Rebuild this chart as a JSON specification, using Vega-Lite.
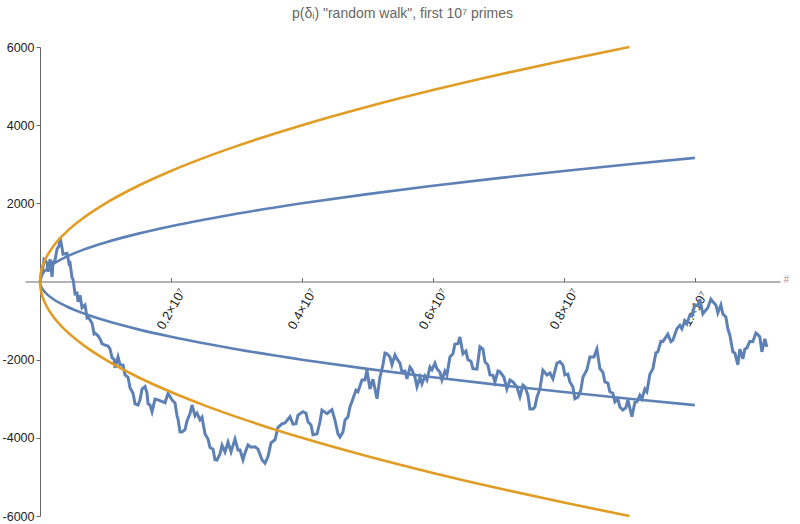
{
"$schema": "https://vega.github.io/schema/vega-lite/v6.json",
"width": 755, "height": 469,
"autosize": "none",
"padding": {"left": 25, "top": 47, "right": 20, "bottom": 8},
"background": "white",
"config": {"view": {"stroke": null}, "font": "Liberation Sans"},
"title": {"text": "p(δᵢ) \"random walk\", first 10⁷ primes", "frame": "group", "anchor": "middle", "offset": 9, "baseline": "alphabetic", "fontSize": 14, "fontWeight": "normal", "color": "#666666", "font": "Liberation Sans"},
"datasets": {
"walk": [
{"x":0,"y":0},{"x":30500,"y":200},{"x":61100,"y":570},{"x":76300,"y":550},{"x":106900,"y":470},{"x":122100,"y":250},{"x":152700,"y":570},{"x":183200,"y":120},{"x":198500,"y":490},{"x":229000,"y":550},{"x":259500,"y":830},{"x":290100,"y":910},{"x":305300,"y":1130},{"x":335900,"y":860},{"x":351100,"y":700},{"x":381700,"y":710},{"x":412200,"y":720},{"x":442700,"y":450},{"x":458000,"y":470},{"x":488500,"y":90},{"x":503800,"y":60},{"x":534300,"y":-320},{"x":564900,"y":-300},{"x":580100,"y":-520},{"x":610700,"y":-350},{"x":641200,"y":-670},{"x":687000,"y":-600},{"x":717500,"y":-930},{"x":732800,"y":-910},{"x":763400,"y":-980},{"x":793900,"y":-1070},{"x":824400,"y":-1340},{"x":839700,"y":-1320},{"x":885500,"y":-1390},{"x":916000,"y":-1470},{"x":946600,"y":-1590},{"x":992400,"y":-1630},{"x":1038200,"y":-1650},{"x":1068700,"y":-1730},{"x":1099200,"y":-1950},{"x":1129800,"y":-1990},{"x":1145000,"y":-2210},{"x":1190800,"y":-1930},{"x":1221400,"y":-2130},{"x":1267200,"y":-2140},{"x":1297700,"y":-2390},{"x":1343500,"y":-2450},{"x":1374000,"y":-2720},{"x":1419800,"y":-2860},{"x":1450400,"y":-3130},{"x":1496200,"y":-3160},{"x":1526700,"y":-3030},{"x":1557200,"y":-2750},{"x":1603000,"y":-2690},{"x":1633600,"y":-2860},{"x":1648800,"y":-3130},{"x":1679400,"y":-3160},{"x":1709900,"y":-3330},{"x":1755700,"y":-3010},{"x":1801500,"y":-3030},{"x":1847300,"y":-3060},{"x":1908400,"y":-3100},{"x":1954200,"y":-2860},{"x":2015200,"y":-3030},{"x":2061000,"y":-3110},{"x":2091600,"y":-3440},{"x":2106800,"y":-3520},{"x":2137400,"y":-3850},{"x":2167900,"y":-3850},{"x":2213700,"y":-3790},{"x":2244200,"y":-3570},{"x":2290000,"y":-3380},{"x":2320600,"y":-3160},{"x":2366400,"y":-3440},{"x":2396900,"y":-3370},{"x":2442700,"y":-3540},{"x":2473300,"y":-3470},{"x":2519100,"y":-3900},{"x":2564900,"y":-4030},{"x":2595400,"y":-4250},{"x":2641200,"y":-4290},{"x":2671700,"y":-4560},{"x":2702300,"y":-4570},{"x":2748100,"y":-4410},{"x":2778600,"y":-4190},{"x":2824400,"y":-4360},{"x":2870200,"y":-4110},{"x":2916000,"y":-4360},{"x":2977100,"y":-4030},{"x":3022900,"y":-4310},{"x":3053400,"y":-4310},{"x":3099200,"y":-4560},{"x":3129700,"y":-4390},{"x":3175500,"y":-4180},{"x":3221300,"y":-4240},{"x":3282400,"y":-4230},{"x":3328200,"y":-4290},{"x":3389300,"y":-4560},{"x":3435100,"y":-4650},{"x":3480900,"y":-4480},{"x":3526700,"y":-4130},{"x":3587700,"y":-4050},{"x":3633500,"y":-3730},{"x":3694600,"y":-3640},{"x":3740400,"y":-3620},{"x":3816800,"y":-3460},{"x":3862600,"y":-3650},{"x":3908400,"y":-3640},{"x":3938900,"y":-3420},{"x":4015200,"y":-3330},{"x":4061000,"y":-3370},{"x":4091600,"y":-3590},{"x":4137400,"y":-3670},{"x":4167900,"y":-3920},{"x":4229000,"y":-3900},{"x":4274800,"y":-3590},{"x":4305300,"y":-3290},{"x":4381600,"y":-3380},{"x":4427400,"y":-3320},{"x":4458000,"y":-3280},{"x":4503800,"y":-3550},{"x":4549600,"y":-3900},{"x":4580100,"y":-3980},{"x":4625900,"y":-3850},{"x":4656400,"y":-3550},{"x":4702200,"y":-3460},{"x":4732800,"y":-3210},{"x":4778600,"y":-3000},{"x":4824400,"y":-2780},{"x":4854900,"y":-2820},{"x":4916000,"y":-2520},{"x":4961800,"y":-2520},{"x":4992300,"y":-2270},{"x":5038100,"y":-2750},{"x":5083900,"y":-2500},{"x":5145000,"y":-3000},{"x":5190800,"y":-2450},{"x":5236600,"y":-2130},{"x":5267100,"y":-1830},{"x":5297600,"y":-1850},{"x":5343500,"y":-1930},{"x":5374000,"y":-2130},{"x":5419800,"y":-1880},{"x":5450300,"y":-1980},{"x":5496100,"y":-2090},{"x":5526700,"y":-2310},{"x":5572500,"y":-2290},{"x":5603000,"y":-2490},{"x":5648800,"y":-2190},{"x":5679300,"y":-2260},{"x":5725100,"y":-2450},{"x":5755700,"y":-2690},{"x":5801500,"y":-2450},{"x":5832000,"y":-2620},{"x":5877800,"y":-2420},{"x":5908300,"y":-2520},{"x":5954100,"y":-2190},{"x":5984700,"y":-2260},{"x":6030500,"y":-2090},{"x":6061000,"y":-2230},{"x":6106800,"y":-2320},{"x":6137300,"y":-2520},{"x":6183100,"y":-2290},{"x":6213700,"y":-2390},{"x":6259500,"y":-1930},{"x":6305300,"y":-1850},{"x":6335800,"y":-1600},{"x":6381600,"y":-1590},{"x":6412100,"y":-1420},{"x":6457900,"y":-1850},{"x":6503700,"y":-1780},{"x":6534300,"y":-2000},{"x":6580100,"y":-2040},{"x":6610600,"y":-2230},{"x":6671700,"y":-2240},{"x":6717500,"y":-1670},{"x":6763300,"y":-1730},{"x":6793800,"y":-2050},{"x":6839600,"y":-2140},{"x":6870200,"y":-2390},{"x":6916000,"y":-2400},{"x":6946500,"y":-2570},{"x":6992300,"y":-2290},{"x":7022800,"y":-2310},{"x":7083900,"y":-2450},{"x":7129700,"y":-2750},{"x":7175500,"y":-2520},{"x":7221300,"y":-2570},{"x":7282400,"y":-2700},{"x":7328200,"y":-2950},{"x":7374000,"y":-2650},{"x":7404500,"y":-2690},{"x":7450300,"y":-2910},{"x":7480800,"y":-3260},{"x":7526600,"y":-3260},{"x":7557200,"y":-3210},{"x":7587700,"y":-2960},{"x":7633500,"y":-2750},{"x":7679300,"y":-2270},{"x":7740400,"y":-2390},{"x":7786200,"y":-2340},{"x":7832000,"y":-2490},{"x":7893000,"y":-2090},{"x":7938800,"y":-2050},{"x":7984600,"y":-2140},{"x":8015200,"y":-2390},{"x":8061000,"y":-2370},{"x":8091500,"y":-2570},{"x":8137300,"y":-2700},{"x":8167800,"y":-3000},{"x":8213600,"y":-2960},{"x":8259400,"y":-2770},{"x":8290000,"y":-2450},{"x":8351000,"y":-2260},{"x":8396900,"y":-1930},{"x":8457900,"y":-1930},{"x":8503700,"y":-1730},{"x":8549500,"y":-2230},{"x":8595300,"y":-2320},{"x":8625900,"y":-2570},{"x":8671700,"y":-2600},{"x":8702200,"y":-2820},{"x":8748000,"y":-2860},{"x":8778500,"y":-3080},{"x":8824300,"y":-3010},{"x":8854900,"y":-3210},{"x":8900700,"y":-3290},{"x":8946500,"y":-3230},{"x":8977000,"y":-3030},{"x":9038100,"y":-3460},{"x":9083900,"y":-3090},{"x":9114400,"y":-3080},{"x":9160200,"y":-2910},{"x":9190700,"y":-3000},{"x":9236500,"y":-2750},{"x":9267100,"y":-2820},{"x":9312900,"y":-2370},{"x":9358700,"y":-2230},{"x":9404500,"y":-1830},{"x":9435000,"y":-1800},{"x":9480800,"y":-1530},{"x":9511300,"y":-1540},{"x":9587700,"y":-1350},{"x":9633500,"y":-1540},{"x":9664000,"y":-1500},{"x":9725100,"y":-1210},{"x":9770900,"y":-1120},{"x":9801400,"y":-1210},{"x":9847200,"y":-1010},{"x":9877700,"y":-1080},{"x":9923600,"y":-860},{"x":9954100,"y":-880},{"x":9999900,"y":-600},{"x":10045700,"y":-620},{"x":10076200,"y":-450},{"x":10122000,"y":-830},{"x":10152600,"y":-760},{"x":10198400,"y":-670},{"x":10244200,"y":-450},{"x":10274700,"y":-520},{"x":10320500,"y":-600},{"x":10351000,"y":-800},{"x":10396800,"y":-600},{"x":10427400,"y":-830},{"x":10473200,"y":-910},{"x":10503700,"y":-1210},{"x":10534200,"y":-1370},{"x":10580000,"y":-1800},{"x":10610600,"y":-1830},{"x":10656400,"y":-2130},{"x":10686900,"y":-1730},{"x":10732700,"y":-1980},{"x":10763200,"y":-1730},{"x":10793800,"y":-1700},{"x":10839600,"y":-1530},{"x":10885400,"y":-1540},{"x":10931200,"y":-1320},{"x":10961700,"y":-1360},{"x":10992200,"y":-1420},{"x":11022800,"y":-1800},{"x":11068600,"y":-1470},{"x":11099100,"y":-1670}
],
"curves": [
{"x":0,"y":0,"s":"b1"},{"x":2500,"y":50,"s":"b1"},{"x":10000,"y":100,"s":"b1"},{"x":25000,"y":158.1,"s":"b1"},{"x":50000,"y":223.6,"s":"b1"},{"x":100000,"y":316.2,"s":"b1"},{"x":200000,"y":447.2,"s":"b1"},{"x":400000,"y":632.5,"s":"b1"},{"x":700000,"y":836.7,"s":"b1"},{"x":1000000,"y":1000,"s":"b1"},{"x":1500000,"y":1224.7,"s":"b1"},{"x":2000000,"y":1414.2,"s":"b1"},{"x":2500000,"y":1581.1,"s":"b1"},{"x":3000000,"y":1732.1,"s":"b1"},{"x":4000000,"y":2000,"s":"b1"},{"x":5000000,"y":2236.1,"s":"b1"},{"x":6000000,"y":2449.5,"s":"b1"},{"x":7000000,"y":2645.8,"s":"b1"},{"x":8000000,"y":2828.4,"s":"b1"},{"x":9000000,"y":3000,"s":"b1"},{"x":10000000,"y":3162.3,"s":"b1"},
{"x":0,"y":0,"s":"b2"},{"x":2500,"y":-50,"s":"b2"},{"x":10000,"y":-100,"s":"b2"},{"x":25000,"y":-158.1,"s":"b2"},{"x":50000,"y":-223.6,"s":"b2"},{"x":100000,"y":-316.2,"s":"b2"},{"x":200000,"y":-447.2,"s":"b2"},{"x":400000,"y":-632.5,"s":"b2"},{"x":700000,"y":-836.7,"s":"b2"},{"x":1000000,"y":-1000,"s":"b2"},{"x":1500000,"y":-1224.7,"s":"b2"},{"x":2000000,"y":-1414.2,"s":"b2"},{"x":2500000,"y":-1581.1,"s":"b2"},{"x":3000000,"y":-1732.1,"s":"b2"},{"x":4000000,"y":-2000,"s":"b2"},{"x":5000000,"y":-2236.1,"s":"b2"},{"x":6000000,"y":-2449.5,"s":"b2"},{"x":7000000,"y":-2645.8,"s":"b2"},{"x":8000000,"y":-2828.4,"s":"b2"},{"x":9000000,"y":-3000,"s":"b2"},{"x":10000000,"y":-3162.3,"s":"b2"},
{"x":0,"y":0,"s":"o1"},{"x":2500,"y":100,"s":"o1"},{"x":10000,"y":200,"s":"o1"},{"x":25000,"y":316.2,"s":"o1"},{"x":50000,"y":447.2,"s":"o1"},{"x":100000,"y":632.5,"s":"o1"},{"x":200000,"y":894.4,"s":"o1"},{"x":400000,"y":1264.9,"s":"o1"},{"x":700000,"y":1673.3,"s":"o1"},{"x":1000000,"y":2000,"s":"o1"},{"x":1500000,"y":2449.5,"s":"o1"},{"x":2000000,"y":2828.4,"s":"o1"},{"x":2500000,"y":3162.3,"s":"o1"},{"x":3000000,"y":3464.1,"s":"o1"},{"x":4000000,"y":4000,"s":"o1"},{"x":5000000,"y":4472.1,"s":"o1"},{"x":6000000,"y":4899,"s":"o1"},{"x":7000000,"y":5291.5,"s":"o1"},{"x":8000000,"y":5656.9,"s":"o1"},{"x":9000000,"y":6000,"s":"o1"},
{"x":0,"y":0,"s":"o2"},{"x":2500,"y":-100,"s":"o2"},{"x":10000,"y":-200,"s":"o2"},{"x":25000,"y":-316.2,"s":"o2"},{"x":50000,"y":-447.2,"s":"o2"},{"x":100000,"y":-632.5,"s":"o2"},{"x":200000,"y":-894.4,"s":"o2"},{"x":400000,"y":-1264.9,"s":"o2"},{"x":700000,"y":-1673.3,"s":"o2"},{"x":1000000,"y":-2000,"s":"o2"},{"x":1500000,"y":-2449.5,"s":"o2"},{"x":2000000,"y":-2828.4,"s":"o2"},{"x":2500000,"y":-3162.3,"s":"o2"},{"x":3000000,"y":-3464.1,"s":"o2"},{"x":4000000,"y":-4000,"s":"o2"},{"x":5000000,"y":-4472.1,"s":"o2"},{"x":6000000,"y":-4899,"s":"o2"},{"x":7000000,"y":-5291.5,"s":"o2"},{"x":8000000,"y":-5656.9,"s":"o2"},{"x":9000000,"y":-6000,"s":"o2"}
]
},
"encoding": {
"x": {"field": "x", "type": "quantitative", "scale": {"domain": [-230000, 11300000], "nice": false, "zero": false},
 "axis": {"orient": "bottom", "offset": -234.5, "values": [2000000, 4000000, 6000000, 8000000, 10000000],
  "labelExpr": "datum.value == 10000000 ? '1.×10⁷' : format(datum.value / 10000000, '.1f') + '×10⁷'",
  "labelAngle": -60, "labelAlign": "center", "labelBaseline": "middle", "labelFontSize": 13, "labelFont": "Liberation Sans", "labelColor": "#222222", "labelPadding": 31, "labelOverlap": false, "labelFlush": false, "labelBound": false,
  "tickSize": -4, "tickColor": "#666666", "domainColor": "#666666", "grid": false,
  "title": "#", "titleX": 758, "titleY": -2, "titleAlign": "left", "titleBaseline": "middle", "titleAngle": 0, "titleFontSize": 10, "titleFontWeight": "normal", "titleColor": "#999999"}},
"y": {"field": "y", "type": "quantitative", "scale": {"domain": [-6000, 6000], "nice": false, "zero": false},
 "axis": {"orient": "left", "offset": -15, "values": [-6000, -4000, -2000, 2000, 4000, 6000],
  "labelExpr": "datum.value < 0 ? '-' + format(-datum.value, 'd') : format(datum.value, 'd')",
  "labelFontSize": 12.5, "labelColor": "#222222", "labelPadding": 2, "labelFlush": false, "labelOverlap": false,
  "tickSize": 4, "tickColor": "#666666", "domainColor": "#666666", "grid": false, "title": null}}
},
"layer": [
{"data": {"name": "walk"}, "mark": {"type": "line", "color": "#5E81B5", "strokeWidth": 3}},
{"data": {"name": "curves"}, "mark": {"type": "line", "strokeWidth": 2.6, "interpolate": "monotone"},
 "encoding": {"color": {"field": "s", "type": "nominal", "scale": {"domain": ["b1", "b2", "o1", "o2"], "range": ["#5E81B5", "#5E81B5", "#E19C24", "#E19C24"]}, "legend": null}}}
]
}
